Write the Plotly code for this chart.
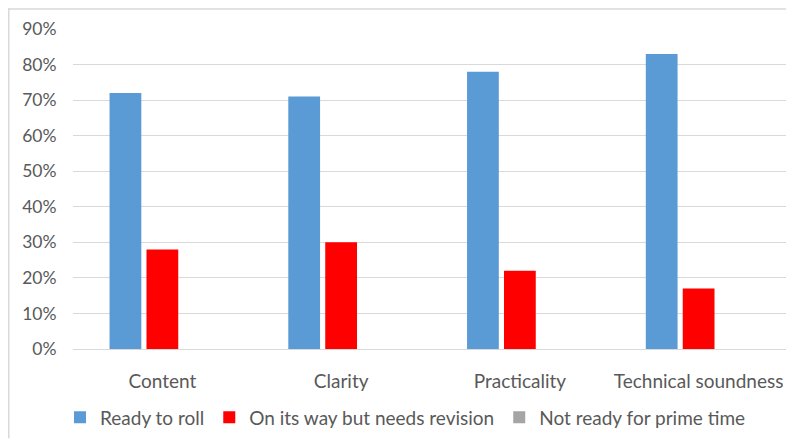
import plotly.graph_objects as go

categories = ["Content", "Clarity", "Practicality", "Technical soundness"]
ready = [0.72, 0.71, 0.78, 0.83]
on_its_way = [0.28, 0.30, 0.22, 0.17]
not_ready = [0, 0, 0, 0]
tick_vals = [0, 0.1, 0.2, 0.3, 0.4, 0.5, 0.6, 0.7, 0.8, 0.9]

FONT = "Lato"
TXT = "#595959"

fig = go.Figure()
fig.add_trace(go.Bar(x=categories, y=ready, name="Ready to roll", marker=dict(color="#5B9BD5", line=dict(width=0))))
fig.add_trace(go.Bar(x=categories, y=on_its_way, name="On its way but needs revision", marker=dict(color="#FF0000", line=dict(width=0))))
fig.add_trace(go.Bar(x=categories, y=not_ready, name="Not ready for prime time", marker=dict(color="#A5A5A5", line=dict(width=0))))

# page has an 8px body margin: figure origin sits at (8, 8) of the window
W, H = 786, 434
L, R, T, B = 65, 6, 21, 90
pw = W - L - R
ph = H - T - B

fig.update_layout(
    width=W, height=H,
    margin=dict(l=L, r=R, t=T, b=B, pad=0),
    paper_bgcolor="white", plot_bgcolor="white",
    barmode="group", bargap=0.38, bargroupgap=0.14,
    font=dict(family=FONT, size=19, color=TXT),
    showlegend=True,
    legend=dict(orientation="h", x=(52 - L) / pw, xanchor="left", y=(ph - (413 - T)) / ph, yanchor="middle",
                font=dict(family=FONT, size=19, color=TXT), bgcolor="rgba(0,0,0,0)"),
    xaxis=dict(showgrid=False, showline=False, ticks="outside", ticklen=15, tickcolor="rgba(0,0,0,0)",
               tickfont=dict(size=19, color=TXT)),
    yaxis=dict(range=[0, 0.9], tickvals=tick_vals, tickformat=".0%", showgrid=True, gridcolor="#D9D9D9",
               gridwidth=1, zeroline=True, zerolinecolor="#D9D9D9", zerolinewidth=1, showline=False,
               ticks="outside", ticklen=12, tickcolor="rgba(0,0,0,0)", tickfont=dict(size=17.5, color=TXT)),
    shapes=[
        dict(type="line", xref="paper", yref="paper",
             x0=(0.75 - L) / pw, x1=(0.75 - L) / pw, y0=(ph - (H - T)) / ph, y1=(ph + T) / ph,
             line=dict(color="#D9D9D9", width=1.5), layer="below"),
        dict(type="line", xref="paper", yref="paper",
             x0=-L / pw, x1=(W - L) / pw, y0=(ph + T - 0.75) / ph, y1=(ph + T - 0.75) / ph,
             line=dict(color="#D9D9D9", width=1.5), layer="below"),
    ],
)

fig.write_html("out.html")
